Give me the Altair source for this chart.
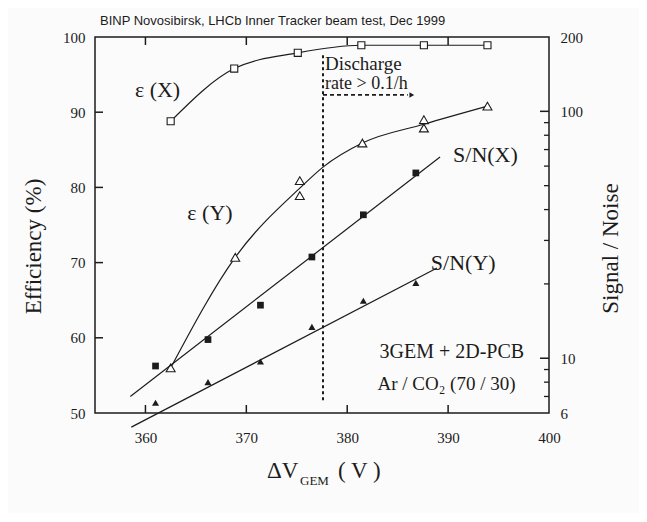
import altair as alt
import pandas as pd

# ---------------- data ----------------
eps_x_v = [362.5, 368.8, 375.1, 381.4, 387.6, 393.9]
eps_x = [88.8, 95.8, 97.9, 98.9, 98.9, 98.9]

eps_y_v = [362.5, 368.9, 375.3, 375.3, 381.5, 387.6, 387.6, 393.9]
eps_y = [56.0, 70.7, 80.9, 78.9, 85.9, 89.0, 87.9, 90.8]
eps_y_fit_v = [362.5, 368.9, 375.3, 377.6, 381.5, 387.6, 393.9]
eps_y_fit = [56.0, 70.7, 79.9, 82.7, 85.9, 88.4, 90.8]

sn_v = [361.0, 366.2, 371.4, 376.5, 381.6, 386.8]
sn_x = [9.3, 11.9, 16.4, 25.7, 38.1, 56.3]
sn_y = [6.6, 8.0, 9.7, 13.4, 17.1, 20.2]
sn_x_fit_v = [358.5, 389.2]
sn_x_fit = [7.0, 65.3]
sn_y_fit_v = [358.6, 388.9]
sn_y_fit = [5.26, 23.2]

discharge_v = [377.6]
discharge_lo = [51.7]
discharge_hi = [97.6]

x_ticks = [360, 370, 380, 390]
x_labels = [360, 370, 380, 390, 400]
eff_ticks = [60, 70, 80, 90]
eff_labels = [50, 60, 70, 80, 90, 100]
sn_major = [10, 100]
sn_minor = [7, 8, 9, 20, 30, 40, 50, 60, 70, 80, 90]
sn_labels = [6, 10, 100, 200]

# ---------------- styling ----------------
W, H = 454, 376
SERIF = "Liberation Serif"
INK = "#1c1c1c"

xs = alt.Scale(domain=[355, 400], nice=False, zero=False)
ys_eff = alt.Scale(domain=[50, 100], nice=False, zero=False)
ys_sn = alt.Scale(type="log", domain=[6, 200], nice=False)

x_axis = alt.Axis(values=x_labels, title=None, ticks=False, tickSize=0, domain=False,
                  grid=False, labelFont=SERIF, labelFontSize=15, labelColor=INK,
                  labelPadding=17, labelFlush=False, format="d")
left_axis = alt.Axis(values=eff_labels, title="Efficiency (%)", ticks=False, tickSize=0,
                     domain=False, grid=False, labelFont=SERIF, labelFontSize=15,
                     labelColor=INK, labelPadding=10, format="d",
                     titleFont=SERIF, titleFontSize=23, titleFontWeight="normal",
                     titleColor=INK, titleX=-62, titleY=209, titleBaseline="middle",
                     titleAlign="center", titleAngle=270)
right_axis = alt.Axis(orient="right", values=sn_labels, title="Signal / Noise", ticks=False,
                      tickSize=0, domain=False, grid=False, labelFont=SERIF, labelFontSize=15,
                      labelColor=INK, labelPadding=11, format="d",
                      titleFont=SERIF, titleFontSize=23, titleFontWeight="normal",
                      titleColor=INK, titleX=61, titleY=211, titleBaseline="middle",
                      titleAlign="center", titleAngle=270)

df_ex = pd.DataFrame({"v": eps_x_v, "eff": eps_x})
df_ey = pd.DataFrame({"v": eps_y_v, "eff": eps_y})
df_eyf = pd.DataFrame({"v": eps_y_fit_v, "eff": eps_y_fit})
df_snx = pd.DataFrame({"v": sn_v, "sn": sn_x})
df_sny = pd.DataFrame({"v": sn_v, "sn": sn_y})
df_snxf = pd.DataFrame({"v": sn_x_fit_v, "sn": sn_x_fit})
df_snyf = pd.DataFrame({"v": sn_y_fit_v, "sn": sn_y_fit})
df_dis = pd.DataFrame({"v": discharge_v, "eff": discharge_lo, "hi": discharge_hi})


def X(f="v"):
    return alt.X(f"{f}:Q", scale=xs, axis=x_axis)


def XD(val):
    return alt.XDatum(val, scale=xs, axis=x_axis)


def YE(f="eff"):
    return alt.Y(f"{f}:Q", scale=ys_eff, axis=left_axis)


def YED(val):
    return alt.YDatum(val, scale=ys_eff, axis=left_axis)


def YS(f="sn"):
    return alt.Y(f"{f}:Q", scale=ys_sn, axis=right_axis)


# ---------------- efficiency layer (left axis) ----------------
ex_line = alt.Chart(df_ex).mark_line(interpolate="monotone", color=INK, strokeWidth=1.2).encode(
    x=X(), y=YE())
ex_pts = alt.Chart(df_ex).mark_point(shape="square", size=50, filled=True, fill="white",
                                     stroke=INK, strokeWidth=1.1, opacity=1).encode(x=X(), y=YE())
ey_line = alt.Chart(df_eyf).mark_line(interpolate="monotone", color=INK, strokeWidth=1.2).encode(
    x=X(), y=YE())
ey_pts = alt.Chart(df_ey).mark_point(shape="triangle-up", size=80, filled=True, fill="white",
                                     stroke=INK, strokeWidth=1.1, opacity=1).encode(x=X(), y=YE())

tick_df_x = pd.DataFrame({"v": x_ticks})
tick_df_e = pd.DataFrame({"eff": eff_ticks})
top_ticks = alt.Chart(tick_df_x).mark_rule(color=INK, strokeWidth=1.5).encode(
    x=X(), y=alt.value(0), y2=alt.value(8))
bot_ticks = alt.Chart(tick_df_x).mark_rule(color=INK, strokeWidth=1.5).encode(
    x=X(), y=alt.value(H), y2=alt.value(H - 8))
left_ticks = alt.Chart(tick_df_e).mark_rule(color=INK, strokeWidth=1.5).encode(
    y=YE(), x=alt.value(0), x2=alt.value(8))

dis_rule = alt.Chart(df_dis).mark_rule(color=INK, strokeWidth=2, strokeDash=[3, 3]).encode(
    x=X(), y=YE(), y2="hi:Q")
arrow = alt.Chart(df_dis).mark_rule(color=INK, strokeWidth=1.6, strokeDash=[4, 3]).encode(
    x=X(), x2=alt.datum(386.0), y=YED(92.3))
arrow_head = alt.Chart(df_dis).mark_point(shape="triangle-right", size=30, filled=True,
                                          color=INK, opacity=1).encode(
    x=XD(386.4), y=YED(92.3))


def label(text, x, y, size, align="center", baseline="middle"):
    return alt.Chart(df_dis).mark_text(text=text, font=SERIF, fontSize=size, color=INK,
                                       align=align, baseline=baseline).encode(
        x=XD(x), y=YED(y))


labels = [
    label("ε (X)", 361.2, 93.0, 22),
    label("ε (Y)", 366.4, 76.6, 22),
    label("S/N(X)", 393.7, 84.3, 22),
    label("S/N(Y)", 391.5, 69.9, 22),
    label("Discharge", 377.8, 95.6, 19, align="left", baseline="alphabetic"),
    label("rate > 0.1/h", 377.8, 93.1, 18, align="left", baseline="alphabetic"),
    label("3GEM + 2D-PCB", 383.2, 58.1, 20, align="left"),
    label("Ar / CO₂ (70 / 30)", 383.0, 53.9, 19, align="left"),
]


def px_text(text, x, y, size, font=SERIF):
    return alt.Chart(df_dis).mark_text(text=text, font=font, fontSize=size, color=INK,
                                       align="left", baseline="alphabetic").encode(
        x=alt.value(x), y=alt.value(y))


xtitle = [
    px_text("ΔV", 172, 441, 23),
    px_text("GEM", 205, 448, 13),
    px_text("( V )", 243, 441, 23),
]

eff_layer = alt.layer(ex_line, ex_pts, ey_line, ey_pts, top_ticks, bot_ticks, left_ticks,
                      dis_rule, arrow, arrow_head, *labels, *xtitle)

# ---------------- signal/noise layer (right log axis) ----------------
snx_line = alt.Chart(df_snxf).mark_line(color=INK, strokeWidth=1.2).encode(x=X(), y=YS())
sny_line = alt.Chart(df_snyf).mark_line(color=INK, strokeWidth=1.2).encode(x=X(), y=YS())
snx_pts = alt.Chart(df_snx).mark_point(shape="square", size=45, filled=True, color=INK,
                                       opacity=1).encode(x=X(), y=YS())
sny_pts = alt.Chart(df_sny).mark_point(shape="triangle-up", size=50, filled=True, color=INK,
                                       opacity=1).encode(x=X(), y=YS())
r_major = alt.Chart(pd.DataFrame({"sn": sn_major})).mark_rule(color=INK, strokeWidth=1.5).encode(
    y=YS(), x=alt.value(W), x2=alt.value(W - 9))
r_minor = alt.Chart(pd.DataFrame({"sn": sn_minor})).mark_rule(color=INK, strokeWidth=1.3).encode(
    y=YS(), x=alt.value(W), x2=alt.value(W - 5))

sn_layer = alt.layer(snx_line, sny_line, snx_pts, sny_pts, r_major, r_minor)

chart = alt.layer(eff_layer, sn_layer).resolve_scale(y="independent").properties(
    width=W, height=H,
    autosize=alt.AutoSizeParams(type="none"),
    padding={"left": 87, "top": 29, "right": 90, "bottom": 100},
    background="#fbfbfb",
    title=alt.TitleParams("BINP Novosibirsk, LHCb Inner Tracker beam test, Dec 1999",
                          anchor="start", frame="group", font="Liberation Sans",
                          fontSize=13, fontWeight="normal", color=INK, dx=5, offset=2),
).configure_view(stroke=INK, strokeWidth=1.5)

chart.save("out.html", embed_options={"renderer": "svg", "actions": False})
